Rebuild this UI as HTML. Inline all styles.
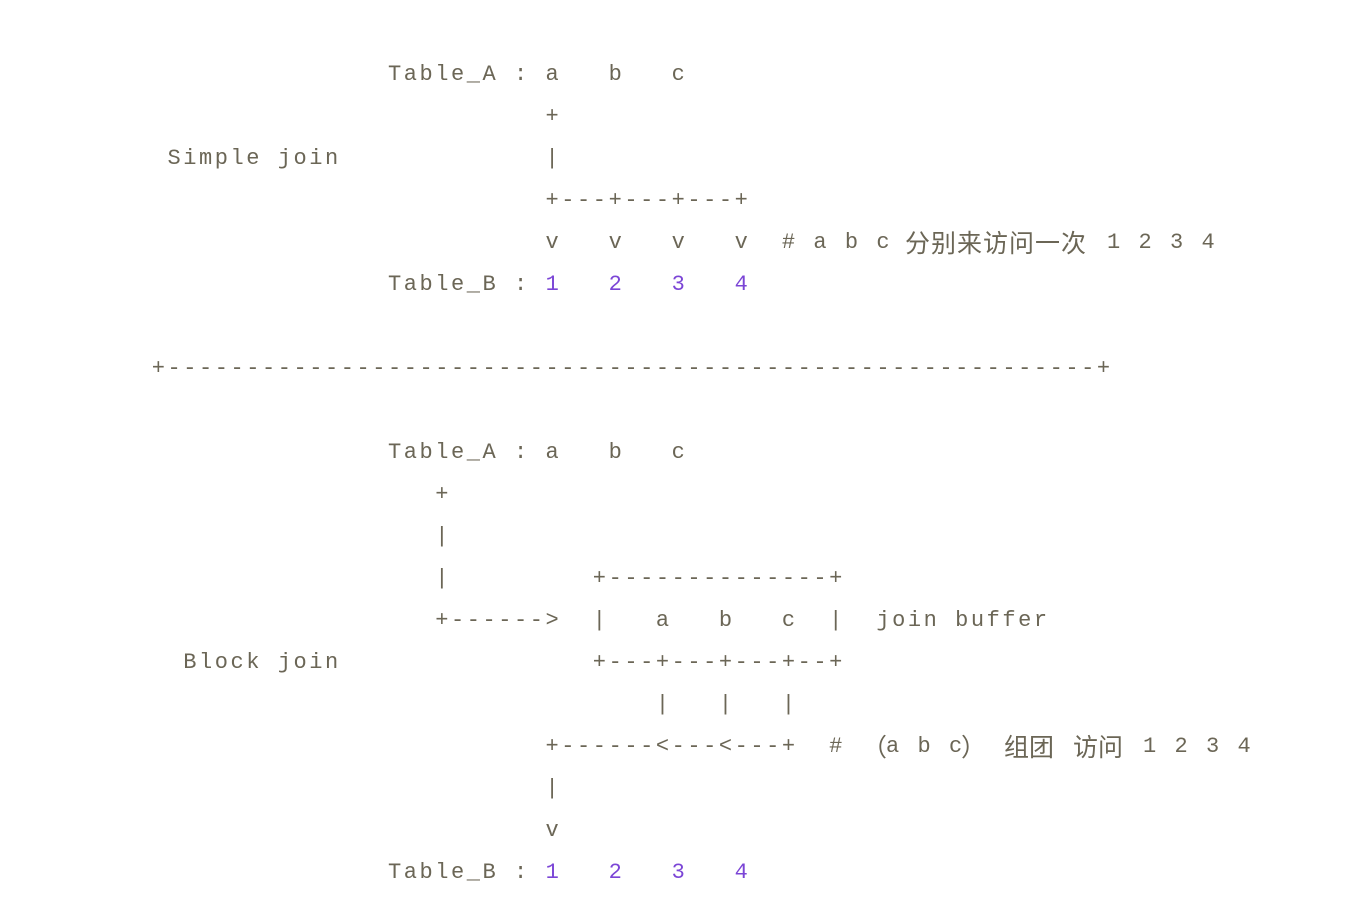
<!DOCTYPE html>
<html><head><meta charset="utf-8"><style>
body{margin:0;width:1356px;height:918px;background:#fff;position:relative;overflow:hidden}
.r{position:absolute;left:136px;margin:0;white-space:pre;font-family:"Liberation Mono",monospace;font-size:22px;letter-spacing:2.55px;line-height:42px;color:#6b6656;height:42px}
.c{position:absolute;white-space:pre;font-family:"Noto Sans CJK SC",sans-serif;font-size:25px;line-height:42px;color:#6b6656}
.p{color:#7b45d6}
</style></head><body>
<pre class="r" style="top:54px">                Table_A : a   b   c</pre>
<pre class="r" style="top:96px">                          +</pre>
<pre class="r" style="top:138px">  Simple join             |</pre>
<pre class="r" style="top:180px">                          +---+---+---+</pre>
<pre class="r" style="top:222px">                          v   v   v   v  # a b c</pre>
<span class="c" style="top:221px;left:905px;letter-spacing:1px">分别来访问一次</span>
<pre class="r" style="top:222px;left:1107px">1 2 3 4</pre>
<pre class="r" style="top:264px">                Table_B : <span class="p">1   2   3   4</span></pre>
<pre class="r" style="top:348px"> +-----------------------------------------------------------+</pre>
<pre class="r" style="top:432px">                Table_A : a   b   c</pre>
<pre class="r" style="top:474px">                   +</pre>
<pre class="r" style="top:516px">                   |</pre>
<pre class="r" style="top:558px">                   |         +--------------+</pre>
<pre class="r" style="top:600px">                   +------&gt;  |   a   b   c  |  join buffer</pre>
<pre class="r" style="top:642px">   Block join                +---+---+---+--+</pre>
<pre class="r" style="top:684px">                                 |   |   |</pre>
<pre class="r" style="top:726px">                          +------&lt;---&lt;---+  #</pre>
<span class="c" style="top:725px;left:862px">（</span>
<pre class="r" style="top:726px;left:886px">a b c</pre>
<span class="c" style="top:725px;left:961px">）</span>
<span class="c" style="top:725px;left:1004px">组团</span>
<span class="c" style="top:725px;left:1073px">访问</span>
<pre class="r" style="top:726px;left:1143px">1 2 3 4</pre>
<pre class="r" style="top:768px">                          |</pre>
<pre class="r" style="top:810px">                          v</pre>
<pre class="r" style="top:852px">                Table_B : <span class="p">1   2   3   4</span></pre>
</body></html>
